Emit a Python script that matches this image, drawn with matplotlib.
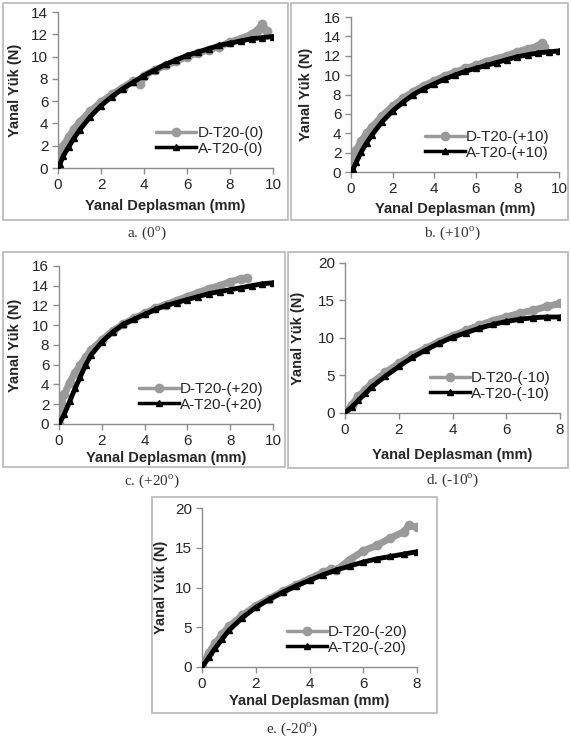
import matplotlib
matplotlib.use("Agg")
import matplotlib.pyplot as plt
from matplotlib.patches import Rectangle

plt.rcParams['font.family'] = ['Liberation Sans', 'DejaVu Sans']
plt.rcParams['mathtext.fontset'] = 'custom'
plt.rcParams['mathtext.rm'] = 'Liberation Serif'

W, H = 571, 739

# ---------------- data ----------------
# a. (0 deg)
a_A_x = [0, 0.1, 0.25, 0.5, 0.75, 1, 1.5, 2, 2.5, 3, 3.5, 4, 4.5, 5, 5.5, 6, 6.5, 7, 7.5, 8, 8.5, 9, 9.5, 10]
a_A_y = [0, 0.4, 1.1, 1.9, 2.7, 3.4, 4.6, 5.6, 6.4, 7.1, 7.7, 8.3, 8.8, 9.3, 9.7, 10.1, 10.4, 10.7, 11.0, 11.2, 11.4, 11.6, 11.7, 11.8]
a_D_x = [0, 0.1, 0.25, 0.5, 0.75, 1, 1.5, 2, 2.5, 3, 3.5, 3.8, 4, 4.5, 5, 5.5, 6, 6.5, 7, 7.5, 8, 8.5, 9, 9.3, 9.5, 9.7]
a_D_y = [0, 1.2, 2.0, 2.8, 3.5, 4.1, 5.1, 5.9, 6.6, 7.2, 7.8, 7.5, 8.3, 8.8, 9.2, 9.6, 10.0, 10.3, 10.6, 10.9, 11.3, 11.6, 12.0, 12.4, 12.9, 12.3]

# b. (+10 deg)
b_A_x = [0, 0.1, 0.25, 0.5, 0.75, 1, 1.5, 2, 2.5, 3, 3.5, 4, 4.5, 5, 5.5, 6, 6.5, 7, 7.5, 8, 8.5, 9, 9.5, 10]
b_A_y = [0, 0.3, 1.0, 2.1, 3.0, 3.8, 5.2, 6.3, 7.2, 8.0, 8.6, 9.1, 9.6, 10.0, 10.4, 10.7, 11.0, 11.3, 11.6, 11.9, 12.1, 12.3, 12.4, 12.5]
b_D_x = [0, 0.1, 0.25, 0.5, 0.75, 1, 1.5, 2, 2.5, 3, 3.5, 4, 4.5, 5, 5.5, 6, 6.5, 7, 7.5, 8, 8.5, 9, 9.2, 9.3]
b_D_y = [0, 1.4, 2.3, 3.2, 4.0, 4.6, 5.8, 6.8, 7.6, 8.3, 8.9, 9.4, 9.9, 10.3, 10.7, 11.0, 11.4, 11.7, 12.0, 12.4, 12.7, 13.0, 13.3, 12.9]

# c. (+20 deg)
c_A_x = [0, 0.25, 0.5, 0.75, 1, 1.25, 1.5, 2, 2.5, 3, 3.5, 4, 4.5, 5, 5.5, 6, 6.5, 7, 7.5, 8, 8.5, 9, 9.5, 10]
c_A_y = [0, 1.0, 2.3, 3.6, 4.8, 6.0, 7.0, 8.3, 9.3, 10.1, 10.6, 11.1, 11.6, 12.0, 12.3, 12.6, 12.9, 13.2, 13.4, 13.6, 13.8, 14.0, 14.2, 14.3]
c_D_x = [0, 0.1, 0.25, 0.5, 0.75, 1, 1.25, 1.5, 2, 2.5, 3, 3.5, 4, 4.5, 5, 5.5, 6, 6.5, 7, 7.5, 8, 8.5, 8.8]
c_D_y = [0, 2.0, 3.0, 4.2, 5.2, 6.0, 6.8, 7.5, 8.5, 9.4, 10.1, 10.7, 11.2, 11.7, 12.1, 12.5, 12.9, 13.3, 13.7, 14.0, 14.4, 14.7, 14.8]

# d. (-10 deg)
d_x = [0, 0.25, 0.5, 0.75, 1, 1.5, 2, 2.5, 3, 3.5, 4, 4.5, 5, 5.5, 6, 6.5, 7, 7.5, 8]
d_A_y = [0, 0.8, 1.7, 2.6, 3.5, 4.9, 6.2, 7.4, 8.4, 9.3, 10.1, 10.7, 11.3, 11.8, 12.2, 12.5, 12.7, 12.8, 12.8]
d_D_y = [0, 1.1, 2.2, 3.1, 4.0, 5.4, 6.6, 7.7, 8.6, 9.5, 10.3, 11.0, 11.7, 12.3, 12.8, 13.3, 13.7, 14.2, 14.6]

# e. (-20 deg)
e_A_x = [0, 0.25, 0.5, 0.75, 1, 1.5, 2, 2.5, 3, 3.5, 4, 4.5, 5, 5.5, 6, 6.5, 7, 7.5, 8]
e_A_y = [0, 1.2, 2.4, 3.5, 4.6, 6.2, 7.5, 8.5, 9.4, 10.2, 10.9, 11.6, 12.2, 12.7, 13.2, 13.6, 13.9, 14.2, 14.5]
e_D_x = [0, 0.25, 0.5, 0.75, 1, 1.5, 2, 2.5, 3, 3.5, 4, 4.5, 4.8, 5, 5.5, 6, 6.5, 7, 7.5, 7.7, 8]
e_D_y = [0, 1.8, 3.0, 4.1, 5.1, 6.5, 7.7, 8.6, 9.5, 10.3, 11.1, 11.9, 12.3, 12.2, 13.5, 14.6, 15.3, 16.2, 17.0, 17.8, 17.6]

panels = [
    dict(Dx=a_D_x, Dy=a_D_y, Ax=a_A_x, Ay=a_A_y, tag='0', ymax=14, ystep=2, xmax=10, xstep=2,
         cap=r'a. (0$^{\mathrm{o}}$)'),
    dict(Dx=b_D_x, Dy=b_D_y, Ax=b_A_x, Ay=b_A_y, tag='+10', ymax=16, ystep=2, xmax=10, xstep=2,
         cap=r'b. (+10$^{\mathrm{o}}$)'),
    dict(Dx=c_D_x, Dy=c_D_y, Ax=c_A_x, Ay=c_A_y, tag='+20', ymax=16, ystep=2, xmax=10, xstep=2,
         cap=r'c. (+20$^{\mathrm{o}}$)'),
    dict(Dx=d_x, Dy=d_D_y, Ax=d_x, Ay=d_A_y, tag='-10', ymax=20, ystep=5, xmax=8, xstep=2,
         cap=r'd. (-10$^{\mathrm{o}}$)'),
    dict(Dx=e_D_x, Dy=e_D_y, Ax=e_A_x, Ay=e_A_y, tag='-20', ymax=20, ystep=5, xmax=8, xstep=2,
         cap=r'e. (-20$^{\mathrm{o}}$)'),
]

# layout in pixels (left, right, top, bottom)
axes_px = [(58, 273, 12, 168), (351, 559, 17, 172), (59, 273, 266, 424),
           (345, 560, 263, 413), (202, 417, 508, 667)]
box_px = [(3, 288, 3, 220), (291, 568, 3, 220), (3, 285, 252, 467),
          (288, 568, 252, 468), (152, 437, 497, 713)]
cap_px = [(147, 233), (452, 233), (152, 481), (453, 480), (292, 729)]
ylab_x = [15, 306, 15, 298, 161]
xlab_y = [206, 209, 458, 455, 701]

fig = plt.figure(figsize=(W / 100, H / 100), dpi=100)
fig.patch.set_facecolor('white')

gray = '#9a9a9a'
spine_c = '#8c8c8c'
txt_c = '#262626'

for p, (l, r, t, b), (bl, br, bt, bb), (cx, cy), yx, xly in zip(
        panels, axes_px, box_px, cap_px, ylab_x, xlab_y):
    fig.patches.append(Rectangle((bl / W, 1 - bb / H), (br - bl) / W, (bb - bt) / H,
                                 transform=fig.transFigure, fill=False,
                                 edgecolor='#b8b8b8', linewidth=1.2))
    ax = fig.add_axes([l / W, 1 - b / H, (r - l) / W, (b - t) / H])
    ax.plot(p['Dx'], p['Dy'], color=gray, lw=5, marker='o', ms=6,
            mec=gray, mfc=gray, label='D-T20-(%s)' % p['tag'], zorder=2,
            solid_capstyle='round')
    ax.plot(p['Ax'], p['Ay'], color='black', lw=3.5, marker='^', ms=5,
            mec='black', mfc='black', label='A-T20-(%s)' % p['tag'], zorder=3)
    ax.set_xlim(0, p['xmax'])
    ax.set_ylim(0, p['ymax'])
    ax.set_xticks(range(0, p['xmax'] + 1, p['xstep']))
    ax.set_yticks(range(0, p['ymax'] + 1, p['ystep']))
    for s in ['top', 'right']:
        ax.spines[s].set_visible(False)
    for s in ['left', 'bottom']:
        ax.spines[s].set_color(spine_c)
        ax.spines[s].set_linewidth(1.0)
    ax.tick_params(direction='out', length=4, width=1, color=spine_c,
                   labelsize=11, labelcolor=txt_c, pad=3)
    ax.set_facecolor('none')
    leg = ax.legend(loc='lower right', bbox_to_anchor=(1.0, 0.02), frameon=False,
                    fontsize=11, handlelength=2.6, handletextpad=0.1,
                    labelspacing=0.1, borderaxespad=0.2)
    for h in leg.legend_handles:
        h.set_linewidth(2.5)
    for t_ in leg.get_texts():
        t_.set_color(txt_c)
    fig.text(((l + r) / 2) / W, 1 - xly / H, 'Yanal Deplasman (mm)', ha='center',
             va='center', fontsize=10.5, fontweight='bold', color=txt_c)
    fig.text(yx / W, 1 - ((t + b) / 2) / H, 'Yanal Yük (N)', ha='center',
             va='center', rotation=90, fontsize=10.5, fontweight='bold', color=txt_c)
    fig.text(cx / W, 1 - cy / H, p['cap'], ha='center', va='center',
             fontsize=11, family='Liberation Serif', color='#333333')

fig.savefig('out.png', dpi=100, facecolor='white')
